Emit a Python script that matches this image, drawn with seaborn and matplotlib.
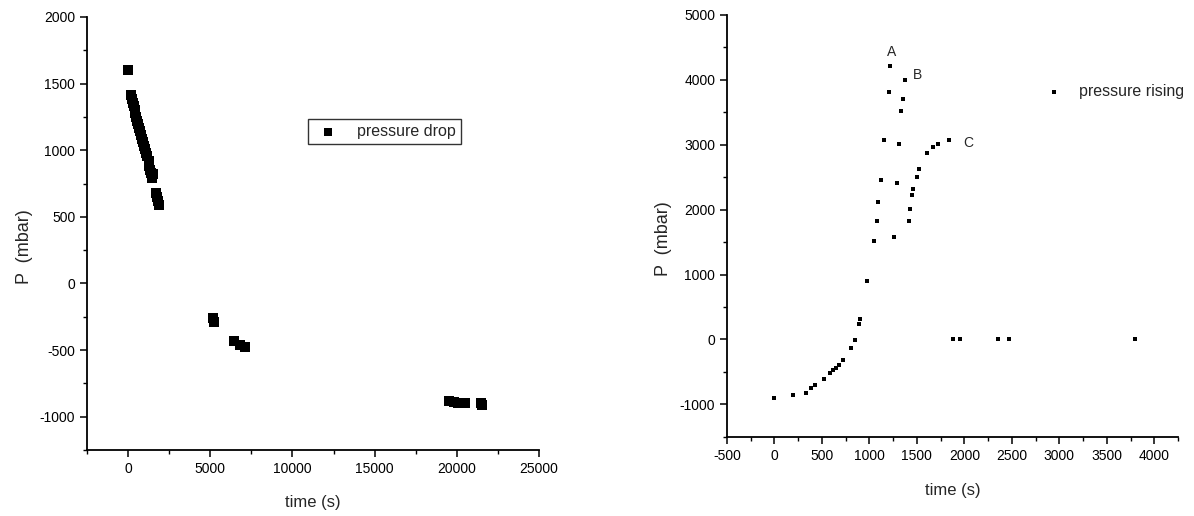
import numpy as np
import pandas as pd
import matplotlib
matplotlib.use('Agg')
import matplotlib.pyplot as plt
import seaborn as sns
from matplotlib.ticker import MultipleLocator

# pressure drop (left panel)
drop_time = [0, 150, 210, 270, 330, 390, 450, 510, 570, 630, 690, 750, 810,
             870, 930, 990, 1050, 1110, 1170, 1250, 1300, 1350, 1420, 1500,
             1480, 1700, 1750, 1800, 1900, 5150, 5200, 6450, 6800, 7100,
             19500, 19800, 20100, 20500, 21500, 21550]
drop_p = [1600, 1412, 1385, 1358, 1331, 1304, 1277, 1250, 1223, 1196, 1169,
          1142, 1115, 1088, 1061, 1034, 1007, 980, 953, 920, 880, 850, 830,
          820, 790, 680, 650, 620, 590, -260, -290, -430, -460, -480,
          -880, -890, -895, -900, -895, -910]

# pressure rising (right panel)
rise_time = [0, 198, 328, 381, 423, 521, 589, 617, 645, 680, 722, 807, 849,
             888, 898, 976, 1050, 1075, 1092, 1117, 1155, 1205, 1215, 1258,
             1286, 1311, 1332, 1350, 1374, 1416, 1427, 1445, 1462, 1498, 1525,
             1603, 1673, 1726, 1843, 1885, 1955, 2350, 2466, 3795]
rise_p = [-905, -864, -823, -751, -699, -607, -514, -478, -437, -390, -324,
          -134, -15, 231, 319, 895, 1512, 1826, 2119, 2464, 3071, 3816, 4213,
          1579, 2418, 3009, 3523, 3699, 4000, 1826, 2017, 2222, 2325, 2505,
          2623, 2866, 2958, 3009, 3071, 0, 0, 0, 0, 0]

point_labels = ['A', 'B', 'C']
label_time = [1233, 1504, 2044]
label_p = [4434, 4074, 3030]

sns.set_style('ticks')
plt.rcParams['font.family'] = ['Liberation Sans', 'DejaVu Sans']
plt.rcParams['axes.unicode_minus'] = False

fig = plt.figure(figsize=(11.94, 5.16), dpi=100)
W, H = 1194, 516
ax1 = fig.add_axes([87 / W, (H - 450) / H, 452 / W, 433 / H])
ax2 = fig.add_axes([727 / W, (H - 436.7) / H, 451 / W, 421.7 / H])

df1 = pd.DataFrame({'time': drop_time, 'P': drop_p})
df2 = pd.DataFrame({'time': rise_time, 'P': rise_p})

sns.scatterplot(data=df1, x='time', y='P', ax=ax1, marker='s', s=45,
                color='black', edgecolor='black', linewidth=0,
                label='pressure drop')
sns.scatterplot(data=df2, x='time', y='P', ax=ax2, marker='s', s=12,
                color='black', edgecolor='black', linewidth=0,
                label='pressure rising')

for lab, t, p in zip(point_labels, label_time, label_p):
    ax2.text(t, p, lab, fontsize=10, ha='center', va='center')

ax1.set_xlim(-2500, 25000)
ax1.set_ylim(-1250, 2000)
ax1.xaxis.set_major_locator(MultipleLocator(5000))
ax1.xaxis.set_minor_locator(MultipleLocator(2500))
ax1.yaxis.set_major_locator(MultipleLocator(500))
ax1.yaxis.set_minor_locator(MultipleLocator(250))

ax2.set_xlim(-500, 4250)
ax2.set_ylim(-1500, 5000)
ax2.xaxis.set_major_locator(MultipleLocator(500))
ax2.xaxis.set_minor_locator(MultipleLocator(250))
ax2.yaxis.set_major_locator(MultipleLocator(1000))
ax2.yaxis.set_minor_locator(MultipleLocator(500))

for ax in (ax1, ax2):
    sns.despine(ax=ax)
    for sp in ('left', 'bottom'):
        ax.spines[sp].set_linewidth(1.3)
        ax.spines[sp].set_color('black')
    ax.tick_params(which='major', direction='out', length=5, width=1.1,
                   labelsize=10, colors='black')
    ax.tick_params(which='minor', direction='out', length=3, width=1.0,
                   colors='black')
    ax.set_xlabel('time (s)', fontsize=12)
    ax.set_ylabel('P  (mbar)', fontsize=13)

ax1.xaxis.set_label_coords(0.5, -0.105)
ax1.yaxis.set_label_coords(-0.12, 0.469)
ax2.xaxis.set_label_coords(0.5, -0.11)
ax2.yaxis.set_label_coords(-0.121, 0.469)

leg1 = ax1.legend(loc='center left', bbox_to_anchor=(0.488, 0.735),
                  frameon=True, fancybox=False, fontsize=11.5,
                  handletextpad=0.8, borderpad=0.3, borderaxespad=0,
                  markerscale=0.9)
leg1.get_frame().set_edgecolor('black')
leg1.get_frame().set_linewidth(1.0)

ax2.legend(loc='center left', bbox_to_anchor=(0.675, 0.818), frameon=False,
           fontsize=11.5, handletextpad=0.6, borderaxespad=0)

fig.savefig('out.png', dpi=100)
